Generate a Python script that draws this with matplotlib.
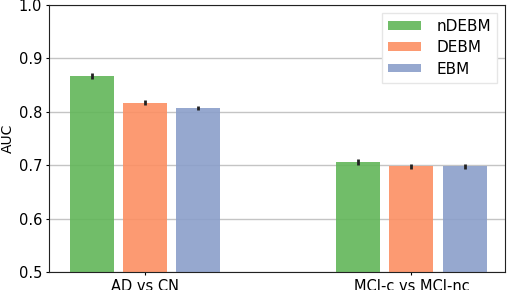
import numpy as np
import matplotlib
matplotlib.use('Agg')
import matplotlib.pyplot as plt

groups = ['AD vs CN', 'MCI-c vs MCI-nc']
methods = ['nDEBM', 'DEBM', 'EBM']
auc_ndebm = [0.867, 0.706]
auc_debm = [0.817, 0.698]
auc_ebm = [0.807, 0.698]
err_ndebm = [0.005, 0.006]
err_debm = [0.0045, 0.005]
err_ebm = [0.0035, 0.0045]
colors = ['#62b659', '#fc8f63', '#8b9fca']

plt.rcParams['font.family'] = 'DejaVu Sans'
plt.rcParams['font.size'] = 10.5

fig = plt.figure(figsize=(5.08, 2.9), dpi=100)
ax = fig.add_axes([0.0965, 0.061, 0.8975, 0.922])

x = np.arange(len(groups))
width = 0.165
offsets = [-0.2, 0.0, 0.2]
values = [auc_ndebm, auc_debm, auc_ebm]
errors = [err_ndebm, err_debm, err_ebm]

for off, vals, errs, col, name in zip(offsets, values, errors, colors, methods):
    ax.bar(x + off, vals, width, yerr=errs, color=col, alpha=0.9, label=name,
           error_kw=dict(ecolor='#222222', elinewidth=2, capsize=0), zorder=2)

ax.set_ylim(0.5, 1.0)
ax.set_xlim(-0.36, 1.351)
ax.set_xticks(x)
ax.set_xticklabels(groups)
ax.set_yticks(np.arange(0.5, 1.01, 0.1))
ax.tick_params(length=2, width=0.8, pad=3)
ax.yaxis.grid(True, color='#c4c4c4', linewidth=1, zorder=0)
ax.set_axisbelow(True)
ax.set_ylabel('AUC', fontsize=10, labelpad=3)
for s in ax.spines.values():
    s.set_color('#222222')

leg = ax.legend(loc='upper right', fontsize=11, handlelength=2.15, handleheight=0.5,
                labelspacing=0.42, handletextpad=1.0, borderaxespad=0.5,
                borderpad=0.4, fancybox=False, framealpha=1)
leg.get_frame().set_edgecolor('#e6e6e6')

fig.savefig('out.png', dpi=100)
